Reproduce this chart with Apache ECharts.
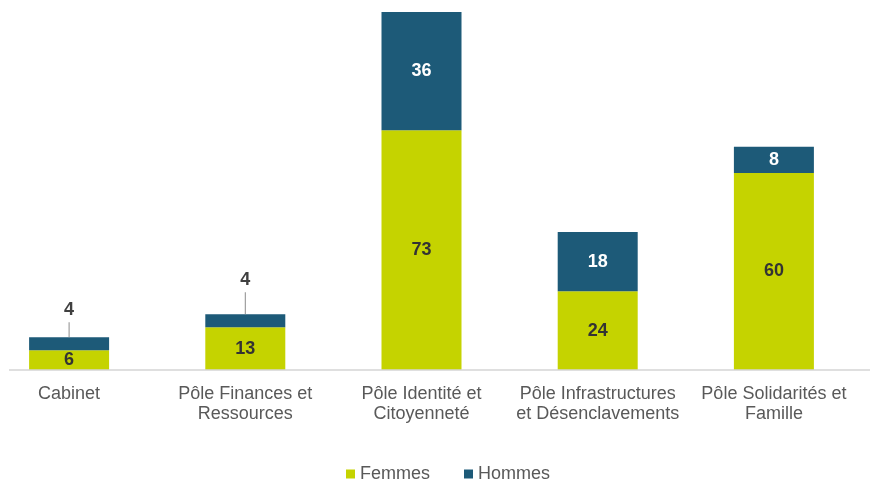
<!DOCTYPE html>
<html>
<head>
<meta charset="utf-8">
<script src="https://cdn.jsdelivr.net/npm/echarts@6/dist/echarts.min.js"></script>
<style>html,body{margin:0;padding:0;background:#fff;overflow:hidden}#c{position:absolute;left:-19px;top:0;width:893px;height:484px}</style>
</head>
<body>
<div id="c"></div>
<script>
var categories = ['Cabinet', 'Pôle Finances et\nRessources', 'Pôle Identité et\nCitoyenneté', 'Pôle Infrastructures\net Désenclavements', 'Pôle Solidarités et\nFamille'];
var femmes = [6, 13, 73, 24, 60];
var hommes = [4, 4, 36, 18, 8];
var seriesNames = ['Femmes', 'Hommes'];

var FONT = '"Liberation Sans", Arial, sans-serif';
var leaderLen = [15, 22, 0, 0, 0];
var OFFSET = 19;
var GRID_BOTTOM = 114;
var H = 484;

function hommesData() {
  return hommes.map(function (v, i) {
    if (v < 6) {
      return {
        value: v,
        label: {
          show: true,
          position: 'top',
          distance: 0,
          formatter: '{n|' + v + '}\n{l|}',
          rich: {
            n: { fontSize: 18, fontWeight: 'bold', color: '#404040', fontFamily: FONT, lineHeight: 24, align: 'center' },
            l: { width: 1, height: leaderLen[i], backgroundColor: '#8c8c8c', align: 'center' }
          }
        }
      };
    }
    return v;
  });
}

var chart = echarts.init(document.getElementById('c'));
chart.setOption({
  animation: false,
  backgroundColor: '#ffffff',
  grid: { left: 0, width: 881, top: 12, bottom: GRID_BOTTOM, containLabel: false },
  legend: {
    data: seriesNames,
    left: 341 + OFFSET,
    top: 460,
    icon: 'rect',
    itemWidth: 9,
    itemHeight: 9,
    itemGap: 34,
    textStyle: { fontSize: 18, color: '#595959', fontFamily: FONT }
  },
  xAxis: {
    type: 'category',
    data: categories,
    axisLine: { show: false },
    axisTick: { show: false },
    axisLabel: { interval: 0, fontSize: 18, lineHeight: 20, color: '#595959', fontFamily: FONT, margin: 14 }
  },
  yAxis: { type: 'value', min: 0, max: 109, show: false, splitLine: { show: false } },
  graphic: [{
    type: 'line',
    shape: { x1: 9 + OFFSET, y1: H - GRID_BOTTOM, x2: 870 + OFFSET, y2: H - GRID_BOTTOM },
    style: { stroke: '#d4d4d4', lineWidth: 1.5 },
    z: 10
  }],
  series: [
    {
      name: seriesNames[0],
      type: 'bar',
      stack: 'total',
      barWidth: 80,
      data: femmes,
      itemStyle: { color: '#c5d300' },
      label: { show: true, position: 'inside', fontSize: 18, fontWeight: 'bold', color: '#333333', fontFamily: FONT }
    },
    {
      name: seriesNames[1],
      type: 'bar',
      stack: 'total',
      barWidth: 80,
      data: hommesData(),
      itemStyle: { color: '#1d5a78' },
      label: { show: true, position: 'inside', fontSize: 18, fontWeight: 'bold', color: '#ffffff', fontFamily: FONT }
    }
  ]
});
</script>
</body>
</html>
